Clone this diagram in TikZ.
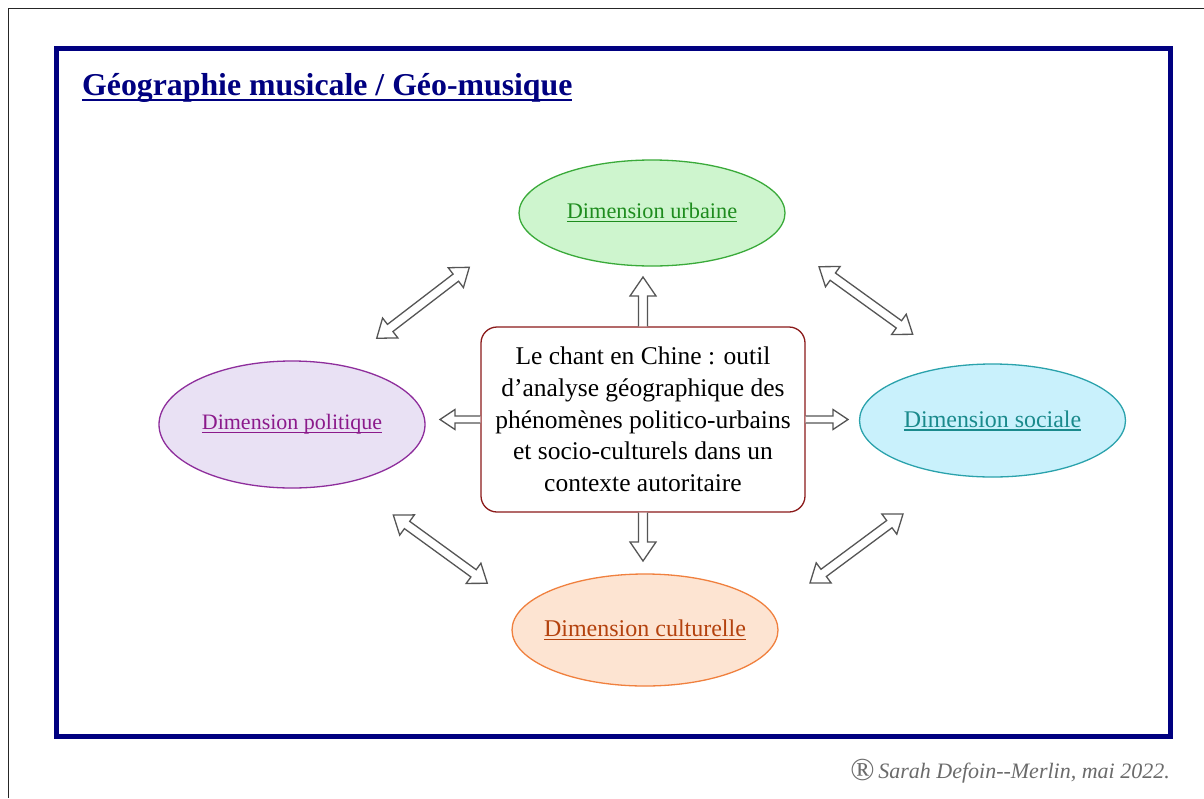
\documentclass[tikz,border=0pt]{standalone}
\usepackage{fontspec}
\setmainfont{Liberation Serif}
\usetikzlibrary{calc,shapes.geometric}
\definecolor{navy}{HTML}{000080}
\definecolor{urbF}{HTML}{CEF5CE}
\definecolor{urbD}{HTML}{3AAA3A}
\definecolor{urbT}{HTML}{1E8C1E}
\definecolor{polF}{HTML}{E9E1F4}
\definecolor{polD}{HTML}{8E2E9C}
\definecolor{polT}{HTML}{8B1A8B}
\definecolor{socF}{HTML}{C9F1FC}
\definecolor{socD}{HTML}{2AA2AC}
\definecolor{socT}{HTML}{1A8A8C}
\definecolor{culF}{HTML}{FDE4D2}
\definecolor{culD}{HTML}{F0803E}
\definecolor{culT}{HTML}{B4420E}
\definecolor{boxD}{HTML}{8B1A1A}
\definecolor{arrD}{HTML}{555555}
\definecolor{credit}{HTML}{6B6B6B}
\newlength\ulwidth
\newcommand\myul[3]{\settowidth\ulwidth{#3}\rlap{\rule[-#1]{\ulwidth}{#2}}#3}
\newcommand\sarrow[5]{%
  \coordinate (hb) at ($(#2)!#5!(#1)$);
  \draw[blockarrow] ($(#1)!#3!90:(#2)$) -- ($(hb)!#3!90:(#2)$) -- ($(hb)!#4!90:(#2)$) -- (#2)
    -- ($(hb)!#4!-90:(#2)$) -- ($(hb)!#3!-90:(#2)$) -- ($(#1)!#3!-90:(#2)$);
}
\newcommand\darrow[5]{%
  \coordinate (ha) at ($(#1)!#5!(#2)$);
  \coordinate (hb) at ($(#2)!#5!(#1)$);
  \draw[blockarrow] (#1) -- ($(ha)!#4!90:(#2)$) -- ($(ha)!#3!90:(#2)$) -- ($(hb)!#3!90:(#2)$)
    -- ($(hb)!#4!90:(#2)$) -- (#2) -- ($(hb)!#4!-90:(#2)$) -- ($(hb)!#3!-90:(#2)$)
    -- ($(ha)!#3!-90:(#2)$) -- ($(ha)!#4!-90:(#2)$) -- cycle;
}
\begin{document}
\begin{tikzpicture}[x=1pt,y=-1pt,
  blockarrow/.style={draw=arrD, fill=white, line width=1.3pt, line join=miter},
  dim/.style={ellipse, line width=1.3pt, minimum width=266pt, inner sep=0pt},
]
\useasboundingbox (0,0) rectangle (1204,798);
\fill[white] (0,0) rectangle (1204,798);
% outer thin border
\draw[line width=1.5pt, black!85] (8.5,798) -- (8.5,8.5) -- (1204,8.5);
% blue frame
\draw[navy, line width=5pt] (56,48.5) rectangle (1170,736);
% title
\node[anchor=base west, inner sep=0pt, text=navy, font=\fontsize{31.8}{36}\selectfont\bfseries] (title) at (82,95)
  {\myul{6pt}{2.5pt}{Géographie musicale / Géo-musique}};
% central box
\node[draw=boxD, line width=1.3pt, rounded corners=16pt, fill=white, minimum width=324pt, minimum height=185pt,
  align=center, inner sep=0pt, font=\fontsize{25.5}{31.7}\selectfont] (core) at (643,419.5)
  {Le chant en Chine : outil\\d’analyse géographique des\\phénomènes politico-urbains\\et socio-culturels dans un\\contexte autoritaire};
% ellipses
\node[dim, fill=urbF, draw=urbD, minimum height=106pt, text=urbT, font=\fontsize{22.3}{26}\selectfont] (urb) at (652,213)
  {\makebox[0pt]{\myul{3.5pt}{1.1pt}{Dimension urbaine}}};
\node[dim, fill=polF, draw=polD, minimum height=127pt, text=polT, font=\fontsize{22}{26}\selectfont] (pol) at (292,424.5)
  {\makebox[0pt]{\myul{3.5pt}{1.1pt}{Dimension politique}}};
\node[dim, fill=socF, draw=socD, minimum height=113pt, text=socT, font=\fontsize{23.9}{28}\selectfont] (soc) at (992.5,420.5)
  {\makebox[0pt]{\myul{3.5pt}{1.1pt}{Dimension sociale}}};
\node[dim, fill=culF, draw=culD, minimum height=112pt, text=culT, font=\fontsize{24}{28}\selectfont] (cul) at (645,630)
  {\makebox[0pt]{\myul{3.5pt}{1.1pt}{Dimension culturelle}}};
% arrow tips
\coordinate (tipU) at (643,277);
\coordinate (tipD) at (643,561);
\coordinate (tipL) at (440,419.5);
\coordinate (tipR) at (848,419.5);
\sarrow{core.north}{tipU}{4.5pt}{13pt}{19pt}
\sarrow{core.south}{tipD}{4.5pt}{13pt}{19pt}
\sarrow{core.west}{tipL}{3.5pt}{10pt}{15pt}
\sarrow{core.east}{tipR}{3.5pt}{10pt}{15pt}
% diagonal double arrows
\coordinate (nwA) at (376.7,338.3); \coordinate (nwB) at (469.3,267.3);
\coordinate (neA) at (819,266.7);   \coordinate (neB) at (912.7,334.3);
\coordinate (swA) at (393.3,515);   \coordinate (swB) at (487.3,583.3);
\coordinate (seA) at (810,583);     \coordinate (seB) at (903,514);
\darrow{nwA}{nwB}{4.5pt}{12.5pt}{17pt}
\darrow{neA}{neB}{4.5pt}{12.5pt}{17pt}
\darrow{swA}{swB}{4.5pt}{12.5pt}{17pt}
\darrow{seA}{seB}{4.5pt}{12.5pt}{17pt}
% credit
\node[anchor=base east, inner sep=0pt, text=credit, font=\fontsize{22}{26}\selectfont] (credit) at (1170,778)
  {\raisebox{-2.5pt}{\fontsize{32}{32}\selectfont ®}\,\itshape Sarah Defoin-{}-Merlin, mai 2022.};
\end{tikzpicture}
\end{document}
